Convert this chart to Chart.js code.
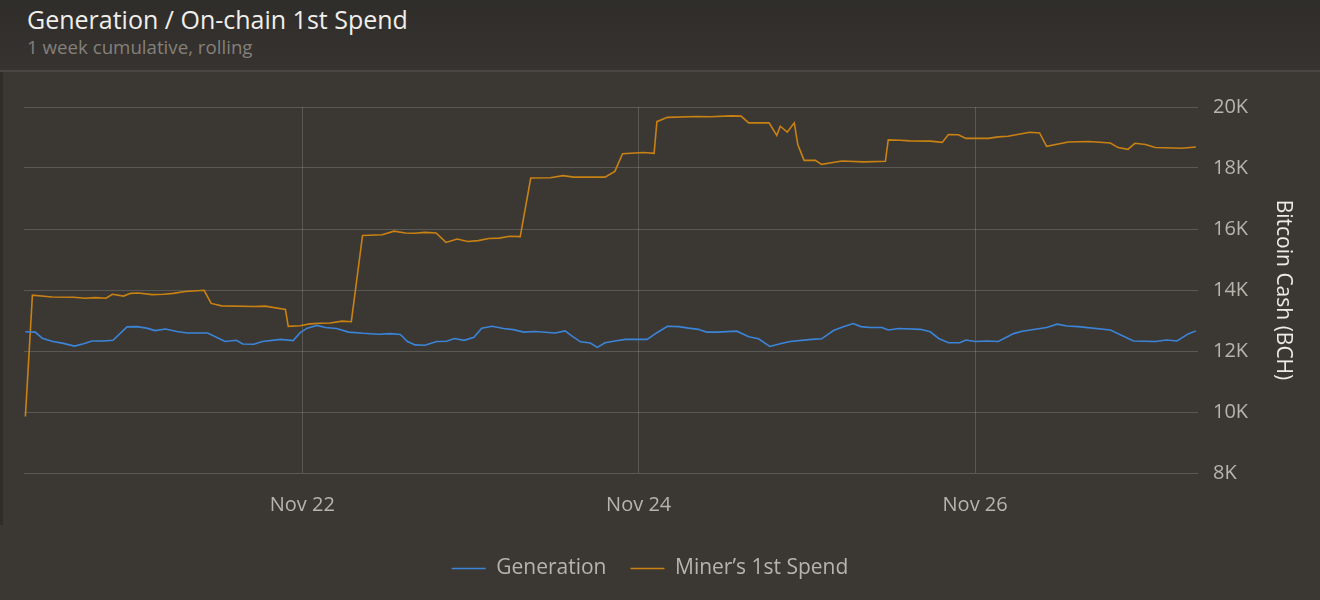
<!DOCTYPE html>
<html>
<head>
<meta charset="utf-8">
<script src="https://cdn.jsdelivr.net/npm/chart.js@4.4.1/dist/chart.umd.min.js"></script>
<style>
  html, body { margin: 0; padding: 0; }
  body { width: 1320px; height: 600px; background: #3b3834; font-family: "Open Sans", sans-serif; overflow: hidden; position: relative; }
  #head { position: absolute; left: 0; top: 0; width: 1320px; height: 70px; background: linear-gradient(#2f2d2a, #363330); border-bottom: 2px solid #4a4743; }
  #title { position: absolute; left: 27px; top: 4px; font-size: 25px; line-height: 30px; color: #f0eeeb; white-space: nowrap; }
  #sub { position: absolute; left: 27px; top: 36px; font-size: 18.7px; line-height: 22px; color: #85807a; white-space: nowrap; }
  #strip { position: absolute; left: 0; top: 72px; width: 3px; height: 453px; background: #2f2d2a; }
  #wrap { position: absolute; left: 0; top: 72px; width: 1320px; height: 528px; }
</style>
</head>
<body>
<div id="head">
  <div id="title">Generation / On-chain 1st Spend</div>
  <div id="sub">1 week cumulative, rolling</div>
</div>
<div id="strip"></div>
<div id="wrap"><canvas id="myChart"></canvas></div>
<script>
const ctx = document.getElementById('myChart').getContext("2d");

// x = hours since Nov 20 00:00
const genHours = [8.5, 9.9, 10.9, 12.3, 13.9, 15.5, 16.8, 18.0, 19.7, 21.0, 23.0, 24.4, 25.8, 27.0, 28.5, 30.1, 31.6, 34.5, 37.0, 38.6, 39.5, 41.1, 42.3, 44.9, 46.7, 47.7, 48.7, 50.1, 51.3, 52.9, 54.6, 56.7, 58.9, 60.5, 62.0, 63.0, 64.1, 65.5, 67.2, 68.6, 69.7, 71.1, 72.5, 73.6, 75.1, 76.7, 78.1, 79.6, 81.2, 84.1, 85.5, 86.5, 87.7, 89.1, 90.1, 91.2, 92.6, 94.1, 97.2, 98.6, 100.1, 101.7, 103.1, 104.5, 105.7, 107.2, 110.0, 111.7, 113.1, 114.7, 116.2, 117.6, 120.7, 122.1, 123.8, 125.0, 126.6, 127.7, 129.0, 130.7, 131.6, 133.1, 136.2, 137.6, 138.8, 140.2, 141.8, 142.7, 144.0, 145.7, 147.3, 149.5, 150.7, 154.2, 155.7, 157.1, 158.7, 163.3, 166.6, 169.7, 171.3, 172.8, 174.4, 175.5];
const genValues = [12630, 12620, 12420, 12320, 12250, 12160, 12240, 12330, 12330, 12350, 12790, 12800, 12750, 12670, 12720, 12640, 12590, 12590, 12310, 12350, 12230, 12220, 12310, 12380, 12340, 12600, 12750, 12840, 12770, 12740, 12620, 12580, 12550, 12570, 12540, 12310, 12200, 12190, 12310, 12320, 12410, 12350, 12450, 12750, 12810, 12740, 12700, 12620, 12640, 12590, 12660, 12490, 12300, 12260, 12120, 12270, 12330, 12380, 12380, 12600, 12810, 12800, 12750, 12710, 12620, 12620, 12650, 12470, 12400, 12150, 12240, 12310, 12380, 12400, 12670, 12780, 12900, 12800, 12770, 12770, 12690, 12740, 12710, 12630, 12410, 12270, 12270, 12360, 12310, 12330, 12310, 12570, 12650, 12770, 12880, 12820, 12800, 12690, 12330, 12310, 12360, 12330, 12560, 12660];

const spendHours = [8.5, 9.5, 12.3, 15.4, 17.0, 18.5, 20.0, 20.9, 22.5, 23.5, 24.6, 26.6, 28.2, 29.6, 31.3, 34.0, 35.0, 36.5, 41.1, 42.7, 45.6, 46.0, 47.7, 49.1, 50.6, 52.0, 53.7, 55.0, 56.6, 59.4, 61.1, 62.7, 64.0, 65.5, 67.1, 68.5, 70.1, 71.6, 73.1, 74.6, 76.1, 77.6, 79.1, 80.6, 83.4, 85.2, 86.7, 91.2, 92.6, 93.7, 96.7, 98.2, 98.6, 100.1, 104.3, 106.2, 109.1, 110.6, 111.7, 114.6, 115.7, 116.2, 117.2, 118.2, 118.7, 119.6, 121.2, 122.1, 125.0, 128.1, 131.2, 131.6, 133.3, 134.7, 137.6, 139.3, 140.2, 141.6, 142.7, 145.9, 147.3, 148.7, 151.8, 153.2, 154.2, 157.3, 160.2, 163.3, 164.4, 165.8, 166.8, 168.3, 169.7, 173.5, 175.5];
const spendValues = [9850, 13830, 13770, 13760, 13730, 13750, 13730, 13860, 13800, 13890, 13900, 13850, 13860, 13890, 13950, 13990, 13560, 13480, 13460, 13470, 13360, 12810, 12830, 12890, 12910, 12920, 12980, 12960, 15790, 15810, 15930, 15870, 15860, 15890, 15870, 15560, 15670, 15590, 15620, 15690, 15700, 15760, 15750, 17670, 17680, 17750, 17700, 17700, 17890, 18470, 18510, 18480, 19520, 19660, 19690, 19680, 19710, 19700, 19480, 19480, 19070, 19370, 19180, 19480, 18770, 18250, 18250, 18120, 18230, 18200, 18220, 18920, 18910, 18890, 18880, 18840, 19100, 19090, 18970, 18970, 19020, 19040, 19170, 19150, 18710, 18850, 18870, 18820, 18670, 18610, 18810, 18770, 18670, 18650, 18690];

const dayTicks = [48, 96, 144];
const dayLabels = ['Nov 22', 'Nov 24', 'Nov 26'];
const yTicks = ['8K', '10K', '12K', '14K', '16K', '18K', '20K'];

const toPoints = (xs, ys) => xs.map((x, i) => ({x: x, y: ys[i]}));

const data = {
    datasets: [
        {
            label: "Generation",
            data: toPoints(genHours, genValues),
            yAxisID: 'y',
            borderColor: "#3b84d8",
            backgroundColor: "#3b84d8",
            borderWidth: 1.6,
            pointRadius: 0,
            tension: 0,
        },
        {
            label: "Miner\u2019s 1st Spend",
            data: toPoints(spendHours, spendValues),
            yAxisID: 'y',
            borderColor: "#c98112",
            backgroundColor: "#c98112",
            borderWidth: 1.6,
            pointRadius: 0,
            tension: 0,
        },
    ],
};

const gridColor = "rgba(255,255,255,0.16)";
const tickColor = "#b8b3ad";
const fontName = "Open Sans";

const config = {
    type: 'line',
    data: data,
    options: {
        responsive: true,
        maintainAspectRatio: false,
        animation: false,
        layout: {
            padding: {left: 0, right: 20, top: 35, bottom: 11},
        },
        plugins: {
            tooltip: {enabled: false},
            legend: {
                position: 'bottom',
                labels: {
                    usePointStyle: true,
                    pointStyle: 'line',
                    pointStyleWidth: 34,
                    padding: 24,
                    color: tickColor,
                    font: {family: fontName, size: 21},
                },
            },
        },
        scales: {
            x: {
                type: 'linear',
                min: 8.3,
                max: 175.8,
                afterBuildTicks: (axis) => {
                    axis.ticks = dayTicks.map(v => ({value: v}));
                },
                afterFit: (axis) => {
                    axis.height -= 3;
                },
                border: {display: false},
                grid: {color: gridColor, drawTicks: false},
                ticks: {
                    padding: 20,
                    maxRotation: 0,
                    color: tickColor,
                    font: {family: fontName, size: 20},
                    callback: (v) => dayLabels[dayTicks.indexOf(v)],
                },
            },
            y: {
                position: 'right',
                min: 8000,
                max: 20000,
                afterFit: (axis) => {
                    axis.width = 102;
                },
                border: {display: false},
                grid: {color: gridColor, drawTicks: false},
                ticks: {
                    stepSize: 2000,
                    padding: 15,
                    color: tickColor,
                    font: {family: fontName, size: 20},
                    callback: (v) => yTicks[(v - 8000) / 2000],
                },
                title: {
                    display: true,
                    text: "Bitcoin Cash (BCH)",
                    color: "#eeeae5",
                    font: {family: fontName, size: 21},
                    padding: {top: 4, bottom: 0},
                },
            },
            // empty left gutter
            yL: {
                position: 'left',
                min: 0,
                max: 1,
                afterFit: (axis) => {
                    axis.width = 24;
                },
                border: {display: false},
                grid: {display: false},
                ticks: {display: false},
            },
        },
    },
};

const myChart = new Chart(ctx, config);
</script>
</body>
</html>
